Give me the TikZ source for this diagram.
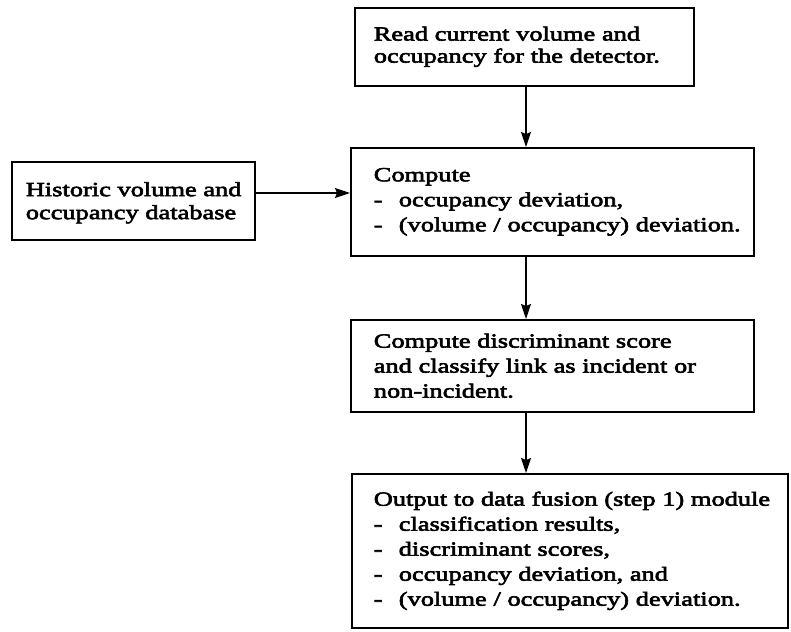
\documentclass[tikz,border=0pt]{standalone}
\usepackage{fontspec}
\setmainfont{Liberation Serif}[FakeStretch=1.32,FakeBold=3]
\usetikzlibrary{arrows.meta}

% list item with a hanging hyphen, kept on one line
\newcommand{\flowitem}[1]{\mbox{\makebox[12.5pt][l]{-}#1}}

\begin{document}
\begin{tikzpicture}[x=0.5pt,y=-0.5pt,
  flowbox/.style={draw, line width=0.8pt, anchor=north west, align=left,
    inner ysep=0pt, font=\fontsize{10pt}{12.5pt}\selectfont},
  flowarrow/.style={line width=0.7pt, -{Stealth[length=7.5pt,width=5pt,inset=1pt]}}]

  \useasboundingbox (0,0) rectangle (791,631);

  % process boxes, placed by their top left corners
  \node[flowbox, inner xsep=9.5pt, text width=150.5pt, minimum height=39pt,
        font=\fontsize{10pt}{11pt}\selectfont]
    (read) at (354,7) {\mbox{Read current volume and}\\\mbox{occupancy for the detector.}};
  \node[flowbox, inner xsep=7pt, text width=107.5pt, minimum height=39pt,
        font=\fontsize{10pt}{11.5pt}\selectfont]
    (hist) at (11,161) {\rule{0pt}{9pt}\mbox{Historic volume and}\\\mbox{occupancy database}};
  \node[flowbox, inner xsep=11.5pt, text width=178.5pt, minimum height=54pt]
    (comp) at (350,147) {Compute\\\flowitem{occupancy deviation,}\\\flowitem{(volume / occupancy) deviation.}};
  \node[flowbox, inner xsep=11.5pt, text width=178.5pt, minimum height=46pt]
    (disc) at (350,319) {Compute discriminant score\\\mbox{and classify link as incident or}\\non-incident.};
  \node[flowbox, inner xsep=11pt, text width=196pt, minimum height=77pt]
    (out) at (351,473) {\mbox{Output to data fusion (step 1) module}\\\flowitem{classification results,}\\\flowitem{discriminant scores,}\\\flowitem{occupancy deviation, and}\\\flowitem{(volume / occupancy) deviation.}};

  % connector guides
  \coordinate (spine) at (526,0);
  \coordinate (feed) at (0,193);

  \draw[flowarrow] (read.south -| spine) -- (comp.north -| spine);
  \draw[flowarrow] (comp.south -| spine) -- (disc.north -| spine);
  \draw[flowarrow] (disc.south -| spine) -- (out.north -| spine);
  \draw[flowarrow] (hist.east |- feed) -- (comp.west |- feed);
\end{tikzpicture}
\end{document}
